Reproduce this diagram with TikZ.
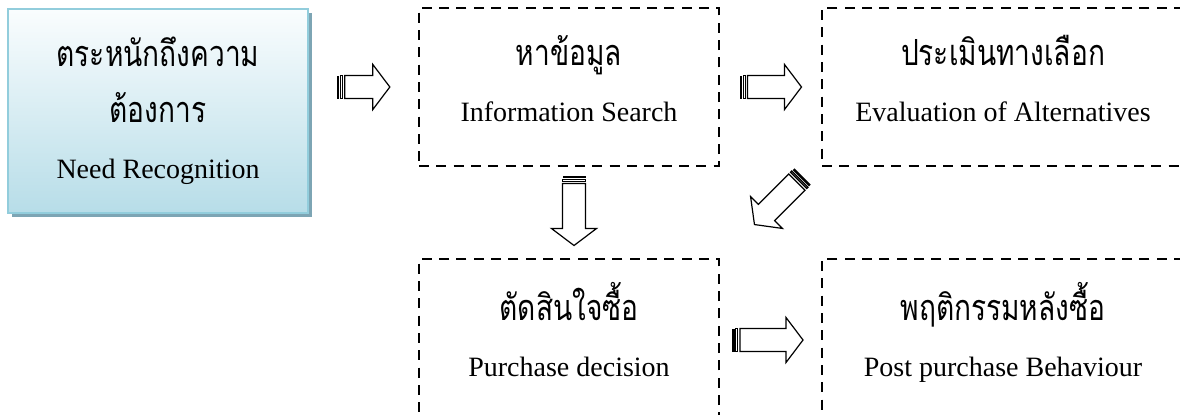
\documentclass[tikz,border=0pt]{standalone}
\usepackage{fontspec}
\setmainfont{Liberation Serif}
\newfontfamily\thaifont[Script=Thai,FakeStretch=0.78]{Loma}
\usetikzlibrary{calc,shadows}
\definecolor{needtop}{RGB}{250,253,254}
\definecolor{needbottom}{RGB}{183,221,232}
\definecolor{needborder}{RGB}{146,205,220}
\definecolor{needshadow}{RGB}{125,165,180}

\newcommand{\thtext}[1]{{\thaifont\fontsize{27}{42}\selectfont #1}}

\tikzset{
  stagebox/.style={draw,dashed,line width=2.1pt,dash pattern=on 7.5pt off 5.5pt,
    minimum width=225pt,align=center,text depth=13pt,font=\fontsize{21}{42}\selectfont},
  needbox/.style={draw=needborder,line width=1.6pt,top color=needtop,bottom color=needbottom,
    minimum width=225pt,minimum height=153pt,align=center,font=\fontsize{21}{42}\selectfont,
    drop shadow={shadow xshift=3.2pt,shadow yshift=-3.2pt,fill=needshadow,opacity=1}},
  pics/stripearrow/.style={code={
    \pgfmathsetmacro{\arrhalf}{#1/2}
    \fill (-\arrhalf,-11.5) rectangle (-\arrhalf+2.5,11.5);
    \draw (-\arrhalf+3.8,-11.5) rectangle (-\arrhalf+5.6,11.5);
    \draw[fill=white] (-\arrhalf+8,-11.5) -- (\arrhalf-17,-11.5) -- (\arrhalf-17,-22.5)
      -- (\arrhalf,0) -- (\arrhalf-17,22.5) -- (\arrhalf-17,11.5) -- (-\arrhalf+8,11.5) -- cycle;
  }}
}

\begin{document}
\begin{tikzpicture}[x=0.75pt,y=-0.75pt,line width=0.9pt]
    \useasboundingbox (0,0) rectangle (1180,414);
    \clip (0,0) rectangle (1180,414);

    % stages
    \node[needbox] (need) at (158,111) {\thtext{ตระหนักถึงความ}\\\thtext{ต้องการ}\\Need Recognition};
    \node[stagebox,minimum height=118.5pt] (info) at (569,87) {\thtext{หาข้อมูล}\\Information Search};
    \node[stagebox,minimum width=271.5pt,minimum height=118.5pt] (eval) at (1003,87) {\thtext{ประเมินทางเลือก}\\Evaluation of Alternatives};
    \node[stagebox,minimum height=118.5pt] (purch) at (569,338) {\thtext{ตัดสินใจซื้อ}\\Purchase decision};
    \node[stagebox,minimum width=271.5pt,minimum height=118.5pt] (post) at (1003,338) {\thtext{พฤติกรรมหลังซื้อ}\\Post purchase Behaviour};

    % block arrows between stages
    \pic at ($(need.east |- info.west)!0.5!(info.west)$) {stripearrow=53};
    \pic at ($(info.east)!0.5!(eval.west)$) {stripearrow=62};
    \pic[rotate=-90] at ($(info.south)!0.5!(purch.north)+(5,-2)$) {stripearrow=70};
    \pic[rotate=225] at ($(eval.south west)!0.5!(purch.north east)+(8,-12)$) {stripearrow=68};
    \pic at ($(purch.east)!0.5!(post.west)+(-3,2)$) {stripearrow=71};
\end{tikzpicture}
\end{document}
